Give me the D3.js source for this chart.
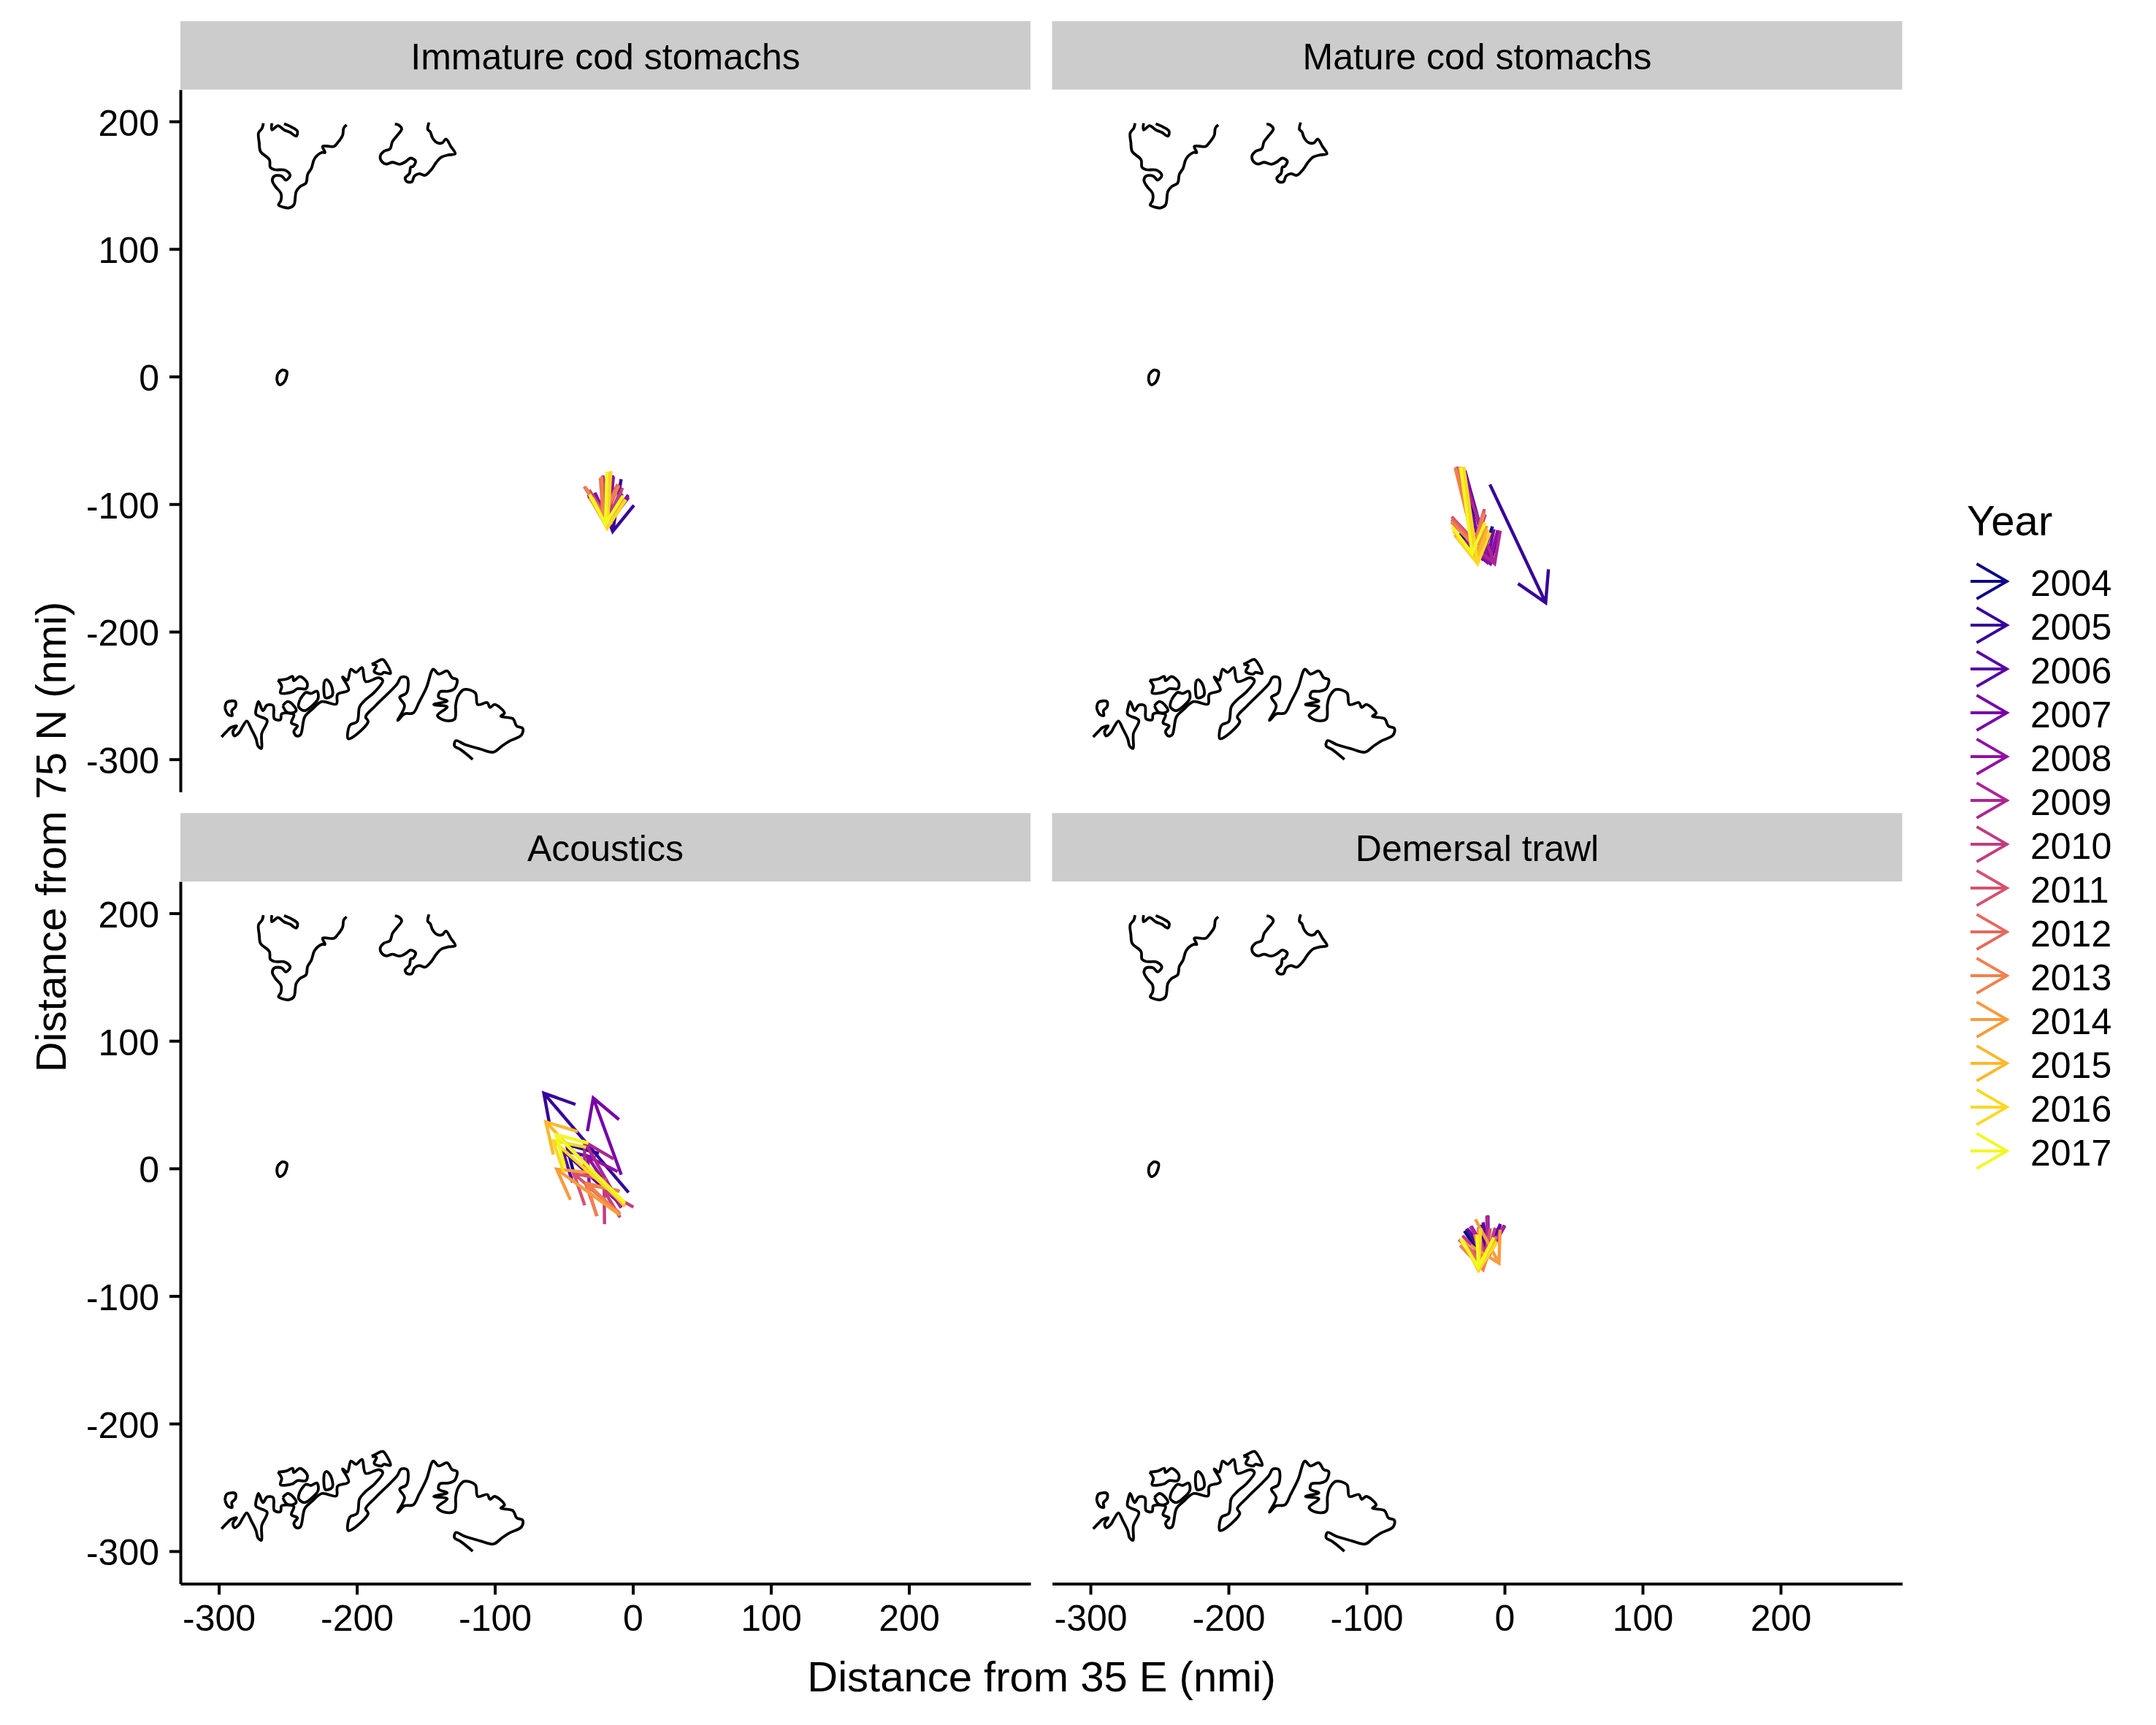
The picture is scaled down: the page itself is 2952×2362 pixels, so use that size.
<!DOCTYPE html>
<html>
<head>
<meta charset="utf-8">
<script src="https://cdn.jsdelivr.net/npm/d3@7"></script>
<style>
body { margin: 0; background: #fff; }
text { font-family: "Liberation Sans", Arial, sans-serif; fill: #000; }
</style>
</head>
<body>
<svg width="2952" height="2362"></svg>
<script>
var years = [2004,2005,2006,2007,2008,2009,2010,2011,2012,2013,2014,2015,2016,2017];
var panelTitles = ["Immature cod stomachs","Mature cod stomachs","Acoustics","Demersal trawl"];
var xTicks = [-300,-200,-100,0,100,200];
var yTicks = [-300,-200,-100,0,100,200];

// center of gravity shift per year (start -> end), nmi
var immatureX    = [-14.6,-8.5,-14.6,-20.8,-14.1,-21.7,-19.9,-22.6,-23.5,-22.6,-19.1,-16.4,-15.9,-18.7];
var immatureY    = [-87,-80.4,-77.5,-80.4,-78.4,-77.5,-83.2,-79.4,-79.4,-78.4,-79.4,-74.6,-74.1,-74.6];
var immatureXend = [-18.2,-14.6,-16.9,-18.2,-17.3,-18.2,-18.2,-19.9,-21.7,-21.7,-19.1,-18.5,-18.7,-19.9];
var immatureYend = [-115.7,-121.4,-114.7,-115.7,-115.7,-113.8,-110.9,-109,-108.1,-109,-117.6,-118.6,-118.6,-115.7];

var matureX    = [-27,-10.6,-28.7,-34.9,-29.6,-33.1,-33.1,-34,-34.9,-35.8,-31.4,-32.2,-29.6,-31.7];
var matureY    = [-87.1,-84.6,-73.7,-70.9,-72.8,-70.9,-70.9,-71.4,-71.4,-71.4,-70.9,-70.9,-70.9,-70.9];
var matureXend = [-16.4,29.8,-10.2,-12.8,-11.1,-7.2,-21.7,-21.7,-21.7,-21.7,-21.7,-20.8,-19.5,-23.4];
var matureYend = [-142.5,-177.3,-146.3,-145.4,-145.9,-146.7,-132.9,-129.1,-131,-132.9,-141.5,-144.4,-146.7,-138.7];

var acousticX    = [-17.2,-3.1,-11.9,-8.4,-8.4,-8.4,-9.3,-10.2,-9.3,-9.3,-9.3,-5.8,-5.8,-5.8];
var acousticY    = [-15.5,-18.9,-25,-5,-30.8,-29.8,-38.4,-34.6,-35.5,-36.5,-36.5,-29.8,-27.9,-26.9];
var acousticXend = [-48.1,-64.5,-50.8,-28.7,-32.8,-34.9,-20.8,-42.8,-34,-33.1,-55.2,-63.1,-57.8,-55.7];
var acousticYend = [18.9,59,14.1,55.2,9.4,20.8,-17.4,-4,-12.6,-11.7,-0.6,36.5,21.8,26.5];

var trawlX    = [-17.2,-15.5,-15.5,-12.5,-12,-12.8,-19,-21.6,-19,-21.6,-21.1,-18.1,-17.2,-19.9];
var trawlY    = [-44.1,-45.1,-42.2,-36.9,-36.9,-37.4,-47.9,-51.8,-46,-51.8,-39.9,-47,-47,-51.8];
var trawlXend = [-15.5,-13.7,-11.9,-11.1,-11.9,-12.5,-13.7,-14.6,-15.5,-15.5,-4,-18.5,-19,-19];
var trawlYend = [-70.9,-68.9,-68,-68,-68,-68,-71.8,-72.8,-77.5,-79.4,-74.3,-79.4,-80,-77.5];

var panelX    = [immatureX, matureX, acousticX, trawlX];
var panelY    = [immatureY, matureY, acousticY, trawlY];
var panelXend = [immatureXend, matureXend, acousticXend, trawlXend];
var panelYend = [immatureYend, matureYend, acousticYend, trawlYend];

// coastlines, same nmi coordinates
var spitsbergen = [[-267.7,198.5],[-268.6,194.7],[-271.2,190.9],[-270.7,183.2],[-269.8,176.5],[-263.3,169.9],[-262.7,164.1],[-259.7,162.2],[-251.8,161.7],[-248.3,157.8],[-251.4,154],[-254.4,157.1],[-259.7,157.1],[-261.2,153.6],[-258.9,148.8],[-255,143.7],[-255,138],[-256.7,134.5],[-252.7,132.6],[-249.2,132.2],[-245.6,134.5],[-243.9,145],[-241.2,148.8],[-236.8,151.7],[-235.6,158.4],[-232.9,163.2],[-230.6,170.8],[-225.3,175.6],[-223,175.6],[-224.8,180.4],[-216.5,180.4],[-213.9,183.2],[-210.3,189],[-209.5,194.7],[-207.4,197.2]];
var spitsbergenBit = [[-261.5,198.5],[-261.5,193.3],[-257.1,196.6],[-252.7,193.3],[-248.3,191.4],[-243.9,188.4],[-243,192.2],[-247.4,195.6],[-252.7,198.1]];
var edgeoya = [[-172.4,197.9],[-169.8,197.2],[-167.5,194.1],[-170.7,189],[-174.2,184.2],[-175.9,178.5],[-180.4,176.5],[-183,172.7],[-182.1,168.9],[-178.6,166.6],[-174.2,167.9],[-168.9,166.4],[-164.5,168.5],[-161,171.2],[-157.4,168.9],[-159.2,164.7],[-161,164.1],[-161.8,159.3],[-165,155.5],[-163.6,152.7],[-160.1,152.7],[-158.3,157.1],[-154.8,159],[-150.4,157.8],[-146,162.2],[-142.4,167.9],[-138.9,171.8],[-133.6,173.7],[-128.7,174.6],[-131.9,180.4],[-135.4,186.1],[-138,183.2],[-141.6,183.2],[-145.1,187],[-146.8,191.8],[-148.6,193.7],[-147.7,199.1]];
var bearIsland = [[-257.4,1.8],[-253.9,5.1],[-250.7,3.8],[-251.2,-1],[-253,-4.8],[-256,-6.4],[-257.8,-2.9],[-257.4,1.8]];
var norway = [[-298,-282.5],[-294.1,-278.1],[-291.5,-275.3],[-287.1,-273.9],[-289.7,-278.1],[-288.8,-281.6],[-285.3,-279.1],[-282.7,-274.3],[-279.7,-270.1],[-276.5,-276.2],[-273,-283.9],[-271.6,-289.6],[-269.1,-291.5],[-268.9,-280],[-265,-269.5],[-273,-264.8],[-272.6,-259],[-271.2,-254.8],[-268,-261.9],[-265,-257.5],[-260.6,-258.1],[-259.7,-268.2],[-255.3,-269],[-254.4,-264.4],[-245.6,-265.1],[-247.4,-271.4],[-243,-273.9],[-245.6,-278.1],[-243.9,-281.6],[-240.9,-281],[-237.7,-266.7],[-232.4,-260.9],[-225.3,-254.8],[-214.8,-256.7],[-213.9,-249.1],[-205.9,-245.7],[-210.3,-235.5],[-206.8,-238],[-204.2,-229.4],[-200.6,-231.9],[-196.2,-228.1],[-193.6,-239],[-183.9,-236.1],[-181.2,-238.4],[-186.5,-246.6],[-194.5,-254.2],[-198,-259],[-199.8,-270.5],[-205,-273.3],[-206.3,-283.8],[-203.3,-282.9],[-191.8,-270.5],[-193.6,-266.7],[-186.5,-258.1],[-170.7,-240.9],[-168,-235.7],[-163.6,-236.1],[-163.9,-247.9],[-168.9,-251.3],[-165.4,-258.1],[-170.3,-269.5],[-165.4,-264.4],[-159.2,-263.8],[-154.8,-255.2],[-149.5,-243.7],[-144.6,-229.4],[-140.7,-233.2],[-134.5,-230.8],[-131,-236.1],[-127.4,-237.6],[-129.2,-244.7],[-133.6,-246.6],[-139.8,-247.2],[-140.7,-251.4],[-134.5,-254.3],[-144.2,-257.1],[-134.5,-259],[-141.6,-265.7],[-136.3,-269.5],[-129.2,-268.6],[-128.3,-257.1],[-126.6,-250.4],[-122.2,-245.3],[-114.2,-247.9],[-112.4,-257.1],[-105.4,-255.6],[-103.6,-259.4],[-100.1,-257.1],[-93,-263.8],[-95.7,-266.3],[-86.9,-268.2],[-84.2,-273.9],[-79.8,-275.8],[-80.7,-281],[-89.5,-285.8],[-94.8,-289.6],[-101,-294.4],[-110.7,-291.9],[-121.3,-288.6],[-128.3,-285.4],[-129.2,-289.6],[-124.8,-292.4],[-116,-300.1]];
var island1 = [[-295.5,-260],[-294.1,-255.2],[-288,-254.8],[-288,-259],[-290.6,-261.9],[-290.3,-265.7],[-293.3,-264.8],[-295.5,-260]];
var island2 = [[-257.1,-238],[-250.9,-237.1],[-246.5,-235.1],[-245.6,-238.4],[-241.2,-235.1],[-235.9,-240.3],[-236.8,-244.7],[-243,-244.7],[-246.5,-247.2],[-255.3,-247.9],[-254.4,-242.8],[-257.1,-238]];
var island3 = [[-253.6,-258.1],[-250,-254.8],[-245.6,-258.1],[-243.9,-261.9],[-247.4,-263.8],[-250.9,-262.8],[-253.6,-258.1]];
var island4 = [[-241.2,-253.3],[-236.8,-247.6],[-233.3,-248.5],[-228.9,-246.6],[-228,-252.3],[-232.4,-258.1],[-237.7,-261.9],[-242.1,-259],[-241.2,-253.3]];
var island5 = [[-223.6,-239],[-221.8,-237.6],[-218.6,-241.8],[-217.8,-249.9],[-222.7,-251.8],[-223.9,-245.7],[-223.6,-239]];
var island6 = [[-189.2,-225.6],[-185.7,-223.7],[-181.2,-221.8],[-177.7,-226.6],[-175.6,-232.7],[-180.4,-231.9],[-182.1,-233.2],[-187.4,-231.3],[-185.7,-226.6],[-189.2,-225.6]];
var coasts = [spitsbergen, spitsbergenBit, edgeoya, bearIsland, norway, island1, island2, island3, island4, island5, island6];

var svg = d3.select("svg");
var tickFont = 50;
var titleFont = 58;
var panelW = 1164;
var panelH = 961.5;
var stripH = 93.7;
var lefts = [247, 1440.5];
var tops = [122.7, 1207];

var color = d3.scaleOrdinal().domain(years).range(d3.quantize(d3.interpolatePlasma, years.length));
var xScale = d3.scaleLinear().domain([-327.8, 288.1]).range([0, panelW]);
var yScale = d3.scaleLinear().domain([-325.5, 224.9]).range([panelH, 0]);
var coastLine = d3.line().curve(d3.curveCatmullRom.alpha(0.5)).x(d => xScale(d[0])).y(d => yScale(d[1]));

// open arrow head like grid::arrow(angle = 30)
function arrowPath(x0, y0, x1, y1, len) {
  var a = Math.atan2(y0 - y1, x0 - x1);
  var d = 30 * Math.PI / 180;
  return "M" + x0 + "," + y0 + "L" + x1 + "," + y1 +
    "M" + (x1 + len * Math.cos(a + d)) + "," + (y1 + len * Math.sin(a + d)) +
    "L" + x1 + "," + y1 +
    "L" + (x1 + len * Math.cos(a - d)) + "," + (y1 + len * Math.sin(a - d));
}

panelTitles.forEach(function(title, p) {
  var col = p % 2;
  var row = Math.floor(p / 2);
  var g = svg.append("g").attr("transform", "translate(" + lefts[col] + "," + tops[row] + ")");

  var strip = svg.append("g").attr("transform", "translate(" + lefts[col] + "," + (tops[row] - stripH) + ")");
  strip.append("rect")
    .attr("width", panelW)
    .attr("height", stripH)
    .attr("fill", "#cccccc");
  strip.append("text")
    .attr("x", panelW / 2)
    .attr("y", 65.5)
    .attr("text-anchor", "middle")
    .style("font-size", tickFont + "px")
    .text(title);

  g.selectAll(".coast")
    .data(coasts)
    .enter()
    .append("path")
    .attr("class", "coast")
    .attr("d", coastLine)
    .attr("fill", "none")
    .attr("stroke", "#000")
    .attr("stroke-width", 3.8)
    .attr("stroke-linejoin", "round");

  g.selectAll(".shift")
    .data(years)
    .enter()
    .append("path")
    .attr("class", "shift")
    .attr("d", (d, i) => arrowPath(xScale(panelX[p][i]), yScale(panelY[p][i]), xScale(panelXend[p][i]), yScale(panelYend[p][i]), 46))
    .attr("fill", "none")
    .attr("stroke", d => color(d))
    .attr("stroke-width", 4.4);

  if (col == 0) {
    var ya = g.append("g")
      .call(d3.axisLeft(yScale).tickValues(yTicks).tickSize(15).tickPadding(14).tickSizeOuter(0).tickFormat(d => String(d)));
    styleAxis(ya);
    ya.selectAll("text").attr("dy", "0.38em");
  }
  if (row == 1) {
    var xa = g.append("g")
      .attr("transform", "translate(0," + panelH + ")")
      .call(d3.axisBottom(xScale).tickValues(xTicks).tickSize(15).tickPadding(14).tickSizeOuter(0).tickFormat(d => String(d)));
    styleAxis(xa);
  }
});

function styleAxis(a) {
  a.select(".domain").attr("stroke", "#000").attr("stroke-width", 4);
  a.selectAll(".tick line").attr("stroke", "#000").attr("stroke-width", 4);
  a.selectAll("text").attr("fill", "#000").style("font-size", tickFont + "px").style("font-family", "\"Liberation Sans\", Arial, sans-serif");
}

svg.append("text")
  .attr("x", 1426)
  .attr("y", 2316)
  .attr("text-anchor", "middle")
  .style("font-size", titleFont + "px")
  .text("Distance from 35 E (nmi)");

svg.append("text")
  .attr("transform", "translate(90,1146) rotate(-90)")
  .attr("text-anchor", "middle")
  .style("font-size", titleFont + "px")
  .text("Distance from 75 N (nmi)");

var legend = svg.append("g").attr("class", "legend");
legend.append("text")
  .attr("x", 2693)
  .attr("y", 733)
  .style("font-size", titleFont + "px")
  .text("Year");

var legendY = d3.scalePoint().domain(years).range([796, 796 + 60 * (years.length - 1)]);
var keys = legend.selectAll(".key")
  .data(years)
  .enter()
  .append("g")
  .attr("class", "key")
  .attr("transform", d => "translate(0," + legendY(d) + ")");
keys.append("path")
  .attr("d", arrowPath(2698, 0, 2748, 0, 48))
  .attr("fill", "none")
  .attr("stroke", d => color(d))
  .attr("stroke-width", 3.8);
keys.append("text")
  .attr("x", 2780)
  .attr("y", 20)
  .style("font-size", tickFont + "px")
  .text(d => d);
</script>
</body>
</html>
